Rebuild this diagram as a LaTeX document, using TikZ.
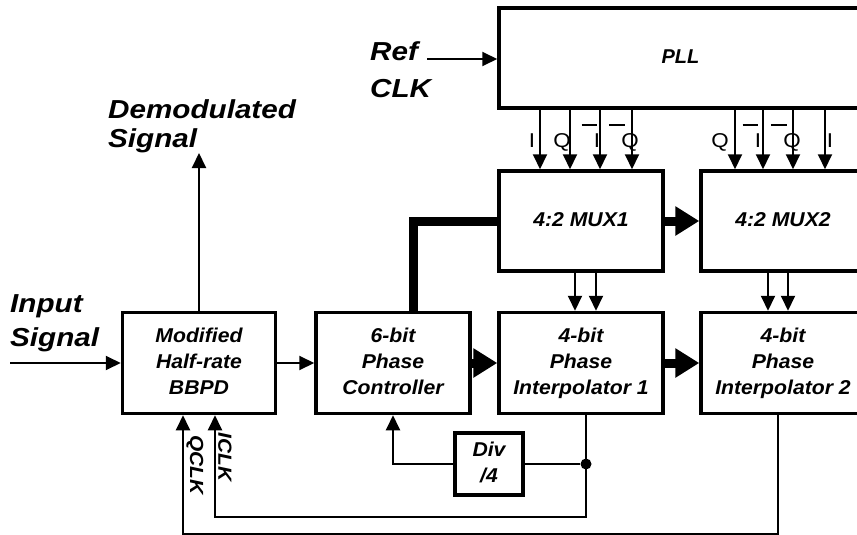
\documentclass[tikz,border=0pt]{standalone}
\usepackage{fontspec}
\setmainfont{Liberation Sans}
\usepackage{graphicx}
\usetikzlibrary{positioning,arrows.meta,calc}
\newcommand{\wtxt}[2][1.06]{\scalebox{#1}[1]{\begin{tabular}{@{}c@{}}#2\end{tabular}}}
\newcommand{\wlft}[2][1.14]{\scalebox{#1}[1]{\begin{tabular}{@{}l@{}}#2\end{tabular}}}
\newcommand{\obar}[1]{\makebox[0pt][r]{\raisebox{21pt}{\rule{14pt}{2pt}}\hspace{-3pt}}#1}
\tikzset{
  blk/.style={draw,line width=3.5pt,rectangle,inner sep=0pt,
    font=\bfseries\itshape\fontsize{20}{26}\selectfont},
  sig/.style={line width=2pt,-{Triangle[length=15pt,width=14pt]}},
  wire/.style={line width=2pt},
  bus/.style={line width=9pt},
  busarr/.style={line width=9pt,-{Triangle[length=24pt,width=28pt]}},
  lbl/.style={inner sep=0pt,font=\bfseries\itshape\fontsize{26}{29}\selectfont},
  clklbl/.style={inner sep=0pt,rotate=-90,font=\bfseries\itshape\fontsize{19}{22}\selectfont},
  pin/.style={inner sep=0pt,anchor=base,font=\fontsize{20}{22}\selectfont},
  dot/.style={circle,fill=black,inner sep=0pt,minimum size=11pt},
}
\begin{document}
\begin{tikzpicture}[x=1pt,y=-1pt]
  \useasboundingbox (0,0) rectangle (857,535);
  \clip (0,0) rectangle (857,535);
  % blocks
  \node[blk,minimum width=153pt,minimum height=101pt] (bbpd) at (199,363) {\wtxt{Modified\\Half-rate\\BBPD}};
  \node[blk,minimum width=154pt,minimum height=101pt] (ctrl) at (393,363) {\wtxt{6-bit\\Phase\\Controller}};
  \node[blk,minimum width=164pt,minimum height=101pt] (pi1) at (581,363) {\wtxt{4-bit\\Phase\\Interpolator 1}};
  \node[blk,minimum width=164pt,minimum height=101pt] (pi2) at (783,363) {\wtxt{4-bit\\Phase\\Interpolator 2}};
  \node[blk,minimum width=164pt,minimum height=100pt] (mux1) at (581,221) {\wtxt{4:2 MUX1}};
  \node[blk,minimum width=164pt,minimum height=100pt] (mux2) at (783,221) {\wtxt{4:2 MUX2}};
  \node[blk,minimum width=363pt,minimum height=100pt] (pll) at (680.5,58) {\wtxt[1]{PLL}};
  \node[blk,minimum width=68pt,minimum height=62pt] (div) at (489,464) {\wtxt{Div\\/4}};
  % outside labels
  \node[lbl,anchor=west] (reflbl) at (370,73) {\wlft{Ref\\[8pt]CLK}};
  \node[lbl,anchor=west] (inlbl) at (10,324) {\wlft{Input\\[5pt]Signal}};
  \node[lbl,anchor=west] (dmlbl) at (108,127) {\wlft{Demodulated\\Signal}};
  \coordinate (refin) at (427,59);
  \coordinate (inp) at (10,363);
  \coordinate (dmout) at (bbpd.north |- 0,153);
  \draw[sig] (refin) -- (refin -| pll.west);
  \draw[sig] (inp) -- (bbpd.west);
  \draw[sig] (bbpd.north) -- (dmout);
  \draw[sig] (bbpd.east) -- (ctrl.west);
  % PLL clock phases
  \foreach \x in {540,570,600,632}
    \draw[sig] (\x,0 |- pll.south) -- (\x,0 |- mux1.north);
  \foreach \x in {735,763,793,825}
    \draw[sig] (\x,0 |- pll.south) -- (\x,0 |- mux2.north);
  \foreach \x/\t [count=\i] in {532/I,562/Q,597/\obar{I},630/\obar{Q},720/Q,758/\obar{I},792/\obar{Q},830/I}
    \node[pin] (ph\i) at (\x,147) {\scalebox{1.12}[1]{\t}};
  % buses
  \draw[bus] (mux1.west) -| ([xshift=20pt]ctrl.north);
  \draw[busarr] (ctrl.east) -- (pi1.west);
  \draw[busarr] (pi1.east) -- (pi2.west);
  \draw[busarr] (mux1.east) -- (mux2.west);
  \foreach \x in {575,596}
    \draw[sig] (\x,0 |- mux1.south) -- (\x,0 |- pi1.north);
  \foreach \x in {768,788}
    \draw[sig] (\x,0 |- mux2.south) -- (\x,0 |- pi2.north);
  % recovered clocks back to the BBPD
  \coordinate (o1) at ([xshift=5pt]pi1.south);
  \coordinate (o2) at ([xshift=-5pt]pi2.south);
  \coordinate (iclk) at ([xshift=16pt]bbpd.south);
  \coordinate (qclk) at ([xshift=-16pt]bbpd.south);
  \node[dot] (tap) at (o1 |- div.east) {};
  \draw[sig] (o1) -- ++(0,102) -| (iclk);
  \draw[sig] (o2) -- ++(0,119) -| (qclk);
  \draw[wire] (tap) -- (div.east);
  \draw[sig] (div.west) -| (ctrl.south);
  \node[clklbl] (qlbl) at (195,465) {\scalebox{1.1}[1]{QCLK}};
  \node[clklbl] (ilbl) at (225,457) {\scalebox{1.1}[1]{ICLK}};
\end{tikzpicture}
\end{document}
